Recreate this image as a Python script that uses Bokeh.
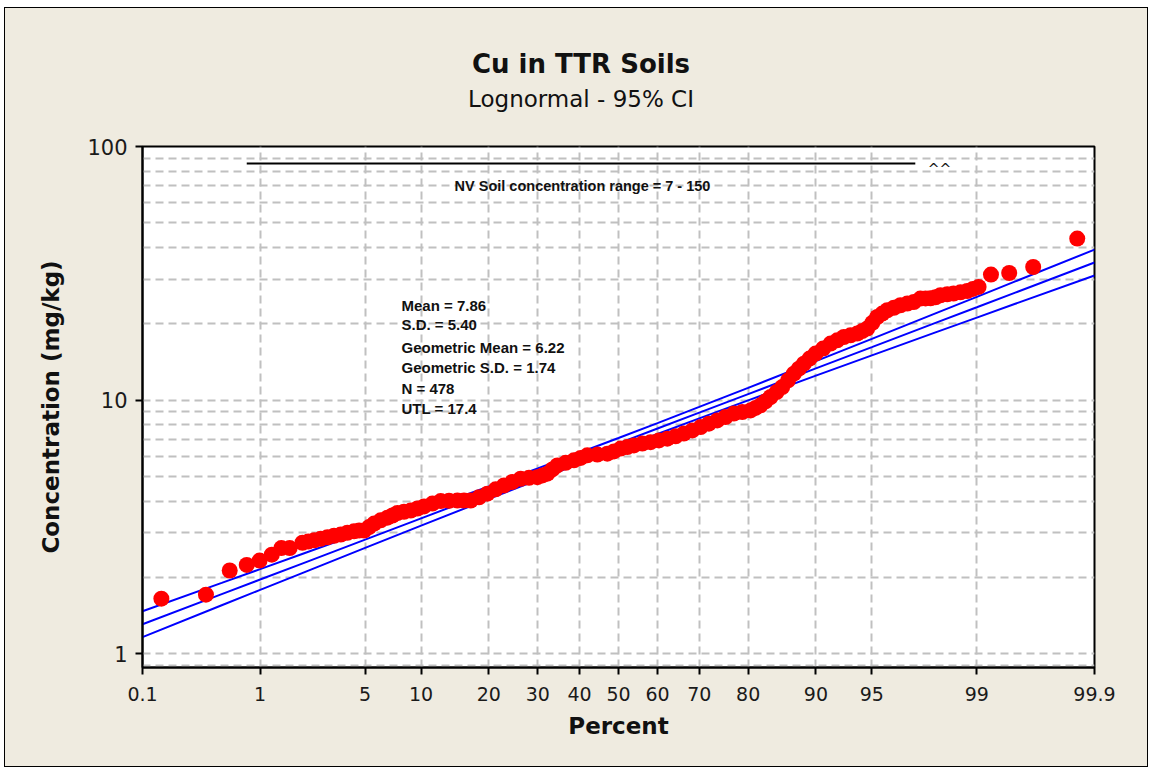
from statistics import NormalDist
from bokeh.plotting import figure
from bokeh.layouts import column
from bokeh.models import Range1d, FixedTicker, Label, BasicTickFormatter, ColumnDataSource
from bokeh.embed import file_html
from bokeh.resources import INLINE

# ---------------- data ----------------
# probability plot points: plotting position (%) and concentration (mg/kg)
point_pct = [0.15, 0.37, 0.58, 0.79, 0.99, 1.22, 1.43, 1.64, 2.01, 2.20, 2.41, 2.66,
             2.94, 3.24, 3.57, 3.92, 4.30, 4.61, 4.93, 5.27, 5.63, 6.13, 6.68, 7.11,
             7.56, 8.19, 8.87, 9.59, 10.34, 11.35, 12.42, 13.56, 14.78, 15.79, 16.86,
             18.26, 19.73, 21.26, 22.86, 24.54, 26.27, 28.06, 29.92, 31.06, 32.21,
             33.38, 34.57, 36.58, 38.62, 40.30, 41.98, 44.54, 47.11, 48.82, 50.55,
             52.28, 53.99, 56.14, 58.26, 60.35, 62.43, 64.46, 66.44, 68.41, 70.30,
             72.13, 73.93, 75.65, 77.31, 78.92, 80.44, 81.32, 82.18, 83.02, 83.82,
             84.76, 85.61, 86.45, 87.25, 87.92, 88.56, 89.26, 89.96, 90.79, 91.57,
             92.22, 92.83, 93.40, 93.94, 94.32, 94.68, 95.03, 95.35, 95.66, 95.95,
             96.31, 96.64, 96.96, 97.24, 97.50, 97.69, 97.86, 98.02, 98.17, 98.36,
             98.52, 98.68, 98.82, 98.93, 99.03, 99.22, 99.44, 99.645, 99.855]
point_conc = [1.65, 1.71, 2.13, 2.24, 2.33, 2.46, 2.61, 2.61, 2.74, 2.77, 2.80, 2.84,
              2.88, 2.92, 2.95, 3.00, 3.04, 3.06, 3.06, 3.16, 3.26, 3.36, 3.44, 3.51,
              3.59, 3.63, 3.67, 3.74, 3.81, 3.91, 4.00, 4.01, 4.02, 4.02, 4.02,
              4.14, 4.28, 4.45, 4.61, 4.76, 4.90, 4.94, 4.97, 5.05, 5.13,
              5.33, 5.53, 5.66, 5.79, 5.92, 6.06, 6.10, 6.15, 6.28, 6.44,
              6.53, 6.63, 6.74, 6.83, 6.94, 7.05, 7.20, 7.38, 7.60, 7.83,
              8.08, 8.32, 8.58, 8.85, 8.98, 9.11, 9.32, 9.54, 9.89, 10.29,
              10.76, 11.26, 11.97, 12.72, 13.31, 13.93, 14.58, 15.26, 15.97, 16.71,
              17.21, 17.74, 18.01, 18.30, 18.72, 19.15, 20.18, 21.27, 21.94, 22.61,
              23.13, 23.66, 24.03, 24.38, 25.15, 25.17, 25.20, 25.45, 25.91, 26.15,
              26.31, 26.62, 26.94, 27.44, 27.94, 31.27, 31.72, 33.50, 43.36]

# fitted lognormal line and 95% confidence band
line_pct = [0.1, 0.5, 1, 2, 5, 10, 20, 30, 40, 50, 60, 70, 80, 90, 95, 98, 99, 99.5, 99.9]
fit_mid = [1.308, 1.719, 1.963, 2.268, 2.819, 3.420, 4.319, 5.112, 5.905, 6.755, 7.727,
           8.925, 10.56, 13.35, 16.19, 20.12, 23.24, 26.54, 34.87]
ci_upper = [1.472, 1.903, 2.157, 2.473, 3.038, 3.652, 4.572, 5.385, 6.204, 7.091, 8.121,
            9.402, 11.18, 14.25, 17.44, 21.93, 25.53, 29.38, 39.21]
ci_lower = [1.164, 1.554, 1.787, 2.081, 2.615, 3.201, 4.080, 4.853, 5.619, 6.434, 7.355,
            8.472, 9.98, 12.49, 15.02, 18.46, 21.15, 23.98, 31.02]

# NV soil concentration reference bar
nv_pct = [0.79, 97.3]
nv_conc = [85.7, 85.7]

x_tick_pct = [0.1, 1, 5, 10, 20, 30, 40, 50, 60, 70, 80, 90, 95, 99, 99.9]
x_tick_labels = ["0.1", "1", "5", "10", "20", "30", "40", "50", "60", "70", "80",
                 "90", "95", "99", "99.9"]
y_ticks = [1, 10, 100]
y_grid = [0.9, 1, 2, 3, 4, 5, 6, 7, 8, 9, 10, 20, 30, 40, 50, 60, 70, 80, 90, 100]

title = "Cu in TTR Soils"
subtitle = "Lognormal - 95% CI"
stats = ["Mean = 7.86", "S.D. = 5.40", "Geometric Mean = 6.22",
         "Geometric S.D. = 1.74", "N = 478", "UTL = 17.4"]
nv_text = "NV Soil concentration range = 7 - 150"

# ---------------- probability scale ----------------
nd = NormalDist()


def probit(pct):
    return nd.inv_cdf(pct / 100.0)


BG = "#EFEBE0"
GRID = "#c0c0c0"
W = 1142
TOP_H = 120
MAIN_H = 638

# ---- title strip ----
top = figure(width=W, height=TOP_H, output_backend="svg", toolbar_location=None,
             x_range=Range1d(0, W), y_range=Range1d(TOP_H, 0),
             x_axis_type=None, y_axis_type=None, min_border=0)
top.background_fill_color = BG
top.border_fill_color = BG
top.outline_line_color = None
top.add_layout(Label(x=526, y=55, text=title, text_font="DejaVu Sans",
                     text_font_size="26px", text_font_style="bold",
                     text_align="center", text_baseline="middle", text_color="#111111"))
top.add_layout(Label(x=526, y=90, text=subtitle, text_font="DejaVu Sans",
                     text_font_size="23px", text_align="center",
                     text_baseline="middle", text_color="#111111"))

# ---- main chart ----
x_lo, x_hi = probit(0.1), probit(99.9)
p = figure(width=W, height=MAIN_H, output_backend="svg", toolbar_location=None,
           x_range=Range1d(x_lo, x_hi), y_range=Range1d(0.883, 100),
           y_axis_type="log",
           min_border_left=137, min_border_right=53, min_border_top=18,
           min_border_bottom=99)
p.background_fill_color = "white"
p.border_fill_color = BG
p.outline_line_color = "black"
p.outline_line_width = 2

xt = [probit(v) for v in x_tick_pct]
p.xaxis.ticker = FixedTicker(ticks=xt, minor_ticks=[])
p.xaxis.major_label_overrides = {t: lab for t, lab in zip(xt, x_tick_labels)}
p.yaxis.ticker = FixedTicker(ticks=y_ticks, minor_ticks=[])
p.yaxis.formatter = BasicTickFormatter(use_scientific=False)

for ax in (p.xaxis[0], p.yaxis[0]):
    ax.axis_line_width = 2
    ax.axis_line_color = "black"
    ax.major_tick_in = 0
    ax.major_tick_out = 7
    ax.major_tick_line_width = 2
    ax.major_tick_line_color = "black"
    ax.minor_tick_line_color = None
    ax.major_label_text_font = "DejaVu Sans"
    ax.major_label_text_color = "#1a1a1a"
    ax.axis_label_text_font = "DejaVu Sans"
    ax.axis_label_text_font_size = "23px"
    ax.axis_label_text_font_style = "bold"
    ax.axis_label_text_color = "#111111"

p.xaxis.axis_label = "Percent"
p.xaxis.major_label_text_font_size = "19px"
p.xaxis.major_label_standoff = 12
p.xaxis.axis_label_standoff = 9
p.yaxis.axis_label = "Concentration (mg/kg)"
p.yaxis.major_label_text_font_size = "21px"
p.yaxis.major_label_standoff = 8
p.yaxis.axis_label_standoff = 20

p.xgrid.ticker = FixedTicker(ticks=xt)
p.ygrid.ticker = FixedTicker(ticks=y_grid)
for g in (p.xgrid[0], p.ygrid[0]):
    g.grid_line_color = GRID
    g.grid_line_width = 2
    g.grid_line_dash = "8 5"

# fit line and confidence band
lx = [probit(v) for v in line_pct]
for ys in (ci_upper, fit_mid, ci_lower):
    p.line(lx, ys, line_color="#0000ff", line_width=2)

# data points
src = ColumnDataSource(dict(x=[probit(v) for v in point_pct], y=point_conc))
p.scatter("x", "y", source=src, size=16, fill_color="#ff0000", line_color=None)

# NV bar
p.line([probit(v) for v in nv_pct], nv_conc, line_color="black", line_width=2)

# texts inside the frame (screen units: from frame left / frame bottom)
stat_y = [362, 342.7, 320.3, 300.3, 278.7, 259.3]
for s, yy in zip(stats, stat_y):
    p.add_layout(Label(x=259, y=yy, x_units="screen", y_units="screen", text=s,
                       text_font="Liberation Sans", text_font_size="15px",
                       text_font_style="bold", text_align="left",
                       text_baseline="middle", text_color="#111111"))
p.add_layout(Label(x=440, y=482, x_units="screen", y_units="screen", text=nv_text,
                   text_font="Liberation Sans", text_font_size="14.5px",
                   text_font_style="bold", text_align="center",
                   text_baseline="middle", text_color="#111111"))
p.add_layout(Label(x=797, y=499, x_units="screen", y_units="screen", text="^^",
                   text_font="DejaVu Sans", text_font_size="14px",
                   text_align="center", text_baseline="middle", text_color="#111111"))

layout = column(top, p, spacing=0,
                styles={"border": "1px solid black", "margin-left": "4px",
                        "margin-top": "7px", "background-color": BG})

open("out.html", "w").write(file_html(layout, INLINE))
